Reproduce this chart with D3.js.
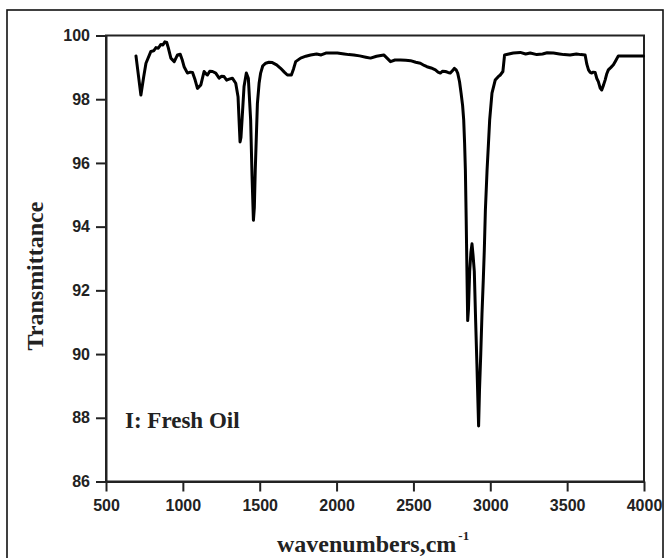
<!DOCTYPE html>
<html><head><meta charset="utf-8">
<script src="https://cdn.jsdelivr.net/npm/d3@7/dist/d3.min.js"></script>
<style>body{margin:0;background:#fff}svg{display:block}</style>
</head><body>
<svg id="chart" width="665" height="558"></svg>
<script>
// FTIR spectrum of fresh oil
const wavenumbers = [695,727,745,760,792,810,825,840,857,870,883,895,905,922,944,965,983,995,1008,1030,1048,1063,1080,1095,1117,1138,1150,1160,1175,1193,1214,1236,1252,1268,1285,1301,1322,1344,1359,1366,1372,1378,1385,1398,1413,1426,1441,1450,1459,1465,1471,1485,1496,1506,1520,1539,1560,1582,1610,1636,1660,1680,1706,1720,1734,1766,1800,1831,1870,1900,1930,1961,2005,2050,2080,2112,2150,2190,2221,2260,2307,2330,2351,2380,2416,2450,2481,2515,2545,2570,2588,2615,2643,2660,2675,2690,2708,2725,2740,2755,2766,2778,2788,2800,2810,2820,2827,2833,2838,2843,2849,2853,2858,2866,2874,2881,2888,2896,2905,2913,2919,2924,2930,2938,2946,2955,2961,2968,2979,2988,2996,3011,3032,3050,3065,3082,3093,3120,3150,3195,3230,3260,3303,3340,3370,3411,3450,3480,3519,3560,3590,3617,3628,3639,3650,3660,3670,3682,3693,3703,3715,3725,3737,3747,3758,3768,3785,3801,3815,3833,3900,3996];
const transmittance = [99.36,98.13,98.7,99.13,99.5,99.52,99.62,99.6,99.72,99.7,99.8,99.78,99.62,99.29,99.18,99.39,99.41,99.25,99.02,98.82,98.85,98.84,98.6,98.34,98.45,98.87,98.8,98.76,98.88,98.87,98.82,98.66,98.72,98.71,98.6,98.63,98.66,98.5,98.08,97.3,96.66,96.8,97.35,98.4,98.82,98.66,97.35,95.6,94.2,94.6,95.77,97.87,98.5,98.82,99.05,99.13,99.16,99.15,99.08,98.97,98.85,98.76,98.76,98.95,99.18,99.29,99.35,99.39,99.42,99.39,99.45,99.45,99.45,99.42,99.4,99.39,99.36,99.32,99.29,99.35,99.39,99.28,99.18,99.23,99.23,99.22,99.21,99.16,99.13,99.06,99.02,98.98,98.92,98.85,98.82,98.88,98.87,98.84,98.82,98.9,98.97,98.92,98.82,98.55,98.19,97.8,97.35,96.6,95.77,94.3,92.3,91.05,91.4,92.6,93.2,93.46,93.1,92.6,91.0,89.68,88.6,87.74,88.9,90.0,91.26,92.4,93.25,94.5,95.77,96.6,97.35,98.19,98.6,98.7,98.76,98.87,99.39,99.42,99.45,99.47,99.42,99.45,99.4,99.42,99.46,99.45,99.42,99.4,99.39,99.42,99.4,99.39,99.1,98.92,98.84,98.82,98.85,98.84,98.65,98.55,98.35,98.29,98.45,98.6,98.8,98.92,99.0,99.08,99.2,99.36,99.36,99.36];
const xTicks = [500,1000,1500,2000,2500,3000,3500,4000];
const yTicks = [86,88,90,92,94,96,98,100];
const xDomain = [500,4000];
const yDomain = [86,100];
const xTitle = "wavenumbers,cm";
const xTitleSup = "-1";
const yTitle = "Transmittance";
const sampleLabel = "I: Fresh Oil";

const svg = d3.select("#chart");
const L = 106, R = 644, T = 35.5, B = 481.5;

// outer frame
svg.append("rect").attr("x",7).attr("y",10).attr("width",656).attr("height",620)
  .attr("fill","none").attr("stroke","#111").attr("stroke-width",1.6);

const x = d3.scaleLinear().domain(xDomain).range([L,R]);
const y = d3.scaleLinear().domain(yDomain).range([B,T]);

const tickFont = "'Liberation Sans', Arial, sans-serif";

const gx = svg.append("g").attr("transform",`translate(0,${B})`)
  .call(d3.axisBottom(x).tickValues(xTicks).tickSize(10).tickSizeOuter(0).tickPadding(8).tickFormat(d3.format("d")));
const gy = svg.append("g").attr("transform",`translate(${L},0)`)
  .call(d3.axisLeft(y).tickValues(yTicks).tickSize(10).tickSizeOuter(0).tickPadding(6).tickFormat(d3.format("d")));
[gx,gy].forEach(g=>{
  g.selectAll("path,line").attr("stroke","#222").attr("stroke-width",2);
  g.selectAll("text").attr("fill","#222").style("font-family",tickFont)
    .style("font-size","16px").style("font-weight","bold");
});

// plot box
svg.append("rect").attr("x",L).attr("y",T).attr("width",R-L).attr("height",B-T)
  .attr("fill","none").attr("stroke","#222").attr("stroke-width",2);

// spectrum
const pts = wavenumbers.map((w,i)=>[w,transmittance[i]]);
svg.append("path").datum(pts)
  .attr("d", d3.line().x(d=>x(d[0])).y(d=>y(d[1])))
  .attr("fill","none").attr("stroke","#000").attr("stroke-width",3)
  .attr("stroke-linejoin","round").attr("stroke-linecap","round");

const serif = "'Liberation Serif','Times New Roman',serif";
// y title
svg.append("text").attr("transform","translate(43,276) rotate(-90)")
  .attr("text-anchor","middle").style("font-family",serif).style("font-weight","bold")
  .style("font-size","24px").attr("fill","#222").text(yTitle);
// x title
const xt = svg.append("text").attr("x",277).attr("y",552)
  .style("font-family",serif).style("font-weight","bold").style("font-size","24px").attr("fill","#222");
xt.append("tspan").text(xTitle);
xt.append("tspan").attr("dy",-12).attr("dx",2).style("font-size","13px").text(xTitleSup);
// sample label
svg.append("text").attr("x",125).attr("y",428)
  .style("font-family",serif).style("font-weight","bold").style("font-size","23px")
  .attr("fill","#222").text(sampleLabel);
</script>
</body></html>
